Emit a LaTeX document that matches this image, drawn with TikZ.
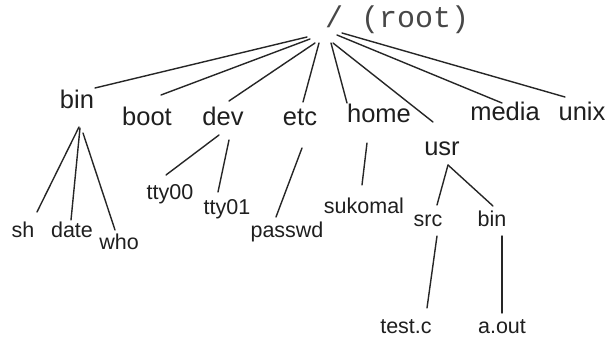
\documentclass[tikz,border=0pt]{standalone}
\usepackage{fontspec}
\setmainfont{Liberation Sans}
\newfontfamily\rootfont{Liberation Mono}
\begin{document}
\begin{tikzpicture}[x=1pt,y=-1pt,
  dir/.style={anchor=base,inner sep=0pt,text=black!88,font=\fontsize{25.5}{30}\selectfont},
  leaf/.style={anchor=base,inner sep=0pt,text=black!88,font=\fontsize{21.5}{26}\selectfont},
  edge/.style={draw=black!85,line width=1.4pt,line cap=round}]
\useasboundingbox (0,0) rectangle (614,337);
\fill[white] (0,0) rectangle (614,337);

% root
\node[anchor=base west,inner sep=0pt,text=black!72,font=\rootfont\fontsize{30}{32}\selectfont] (root) at (325,28) {/ (root)};

% first level
\node[dir] (bin)   at (77,109)  {bin};
\node[dir] (boot)  at (147,125) {boot};
\node[dir] (dev)   at (223,125) {dev};
\node[dir] (etc)   at (300,125) {etc};
\node[dir] (home)  at (379,122) {home};
\node[dir] (usr)   at (442,155) {usr};
\node[dir] (media) at (505,121) {media};
\node[dir] (unix)  at (582,121) {unix};

% second level and below
\node[leaf] (sh)      at (23,237)  {sh};
\node[leaf] (date)    at (72,237)  {date};
\node[leaf] (who)     at (119,249) {who};
\node[leaf] (tty00)   at (170,199) {tty00};
\node[leaf] (tty01)   at (227,214) {tty01};
\node[leaf] (passwd)  at (287,237) {passwd};
\node[leaf] (sukomal) at (364,213) {sukomal};
\node[leaf] (src)     at (428,226) {src};
\node[leaf] (ubin)    at (492,226) {bin};
\node[leaf] (testc)   at (406,333) {test.c};
\node[leaf] (aout)    at (502,333) {a.out};

% connectors from the root
\draw[edge] ([shift={(-18,9)}]root.base west)  -- ([shift={(18,-21)}]bin.base);
\draw[edge] ([shift={(-15,11)}]root.base west) -- ([shift={(14,-30)}]boot.base);
\draw[edge] ([shift={(-10,15)}]root.base west) -- ([shift={(6,-24)}]dev.base);
\draw[edge] ([shift={(-6,15)}]root.base west)  -- ([shift={(3,-23)}]etc.base);
\draw[edge] ([shift={(6,15)}]root.base west)   -- ([shift={(-32,-19)}]home.base);
\draw[edge] ([shift={(8,15)}]root.base west)   -- ([shift={(-9,-33)}]usr.base);
\draw[edge] ([shift={(12,7)}]root.base west)   -- ([shift={(-3,-18)}]media.base);
\draw[edge] ([shift={(17,5)}]root.base west)   -- ([shift={(-17,-24)}]unix.base);

% bin
\draw[edge] ([shift={(2,18)}]bin.base) -- ([shift={(14,-25)}]sh.base);
\draw[edge] ([shift={(3,19)}]bin.base) -- ([shift={(-1,-17)}]date.base);
\draw[edge] ([shift={(6,24)}]bin.base) -- ([shift={(-4,-19)}]who.base);

% dev
\draw[edge] ([shift={(-4,10)}]dev.base) -- ([shift={(-4,-24)}]tty00.base);
\draw[edge] ([shift={(6,15)}]dev.base)  -- ([shift={(-9,-22)}]tty01.base);

% etc, home
\draw[edge] ([shift={(2,23)}]etc.base)   -- ([shift={(-11,-20)}]passwd.base);
\draw[edge] ([shift={(-12,21)}]home.base) -- ([shift={(-2,-28)}]sukomal.base);

% usr
\draw[edge] ([shift={(6,10)}]usr.base) -- ([shift={(9,-21)}]src.base);
\draw[edge] ([shift={(6,10)}]usr.base) -- ([shift={(1,-20)}]ubin.base);
\draw[edge] ([shift={(9,10)}]src.base)  -- ([shift={(21,-25)}]testc.base);
\draw[edge] ([shift={(10,10)}]ubin.base) -- ([shift={(0,-20)}]aout.base);
\end{tikzpicture}
\end{document}
